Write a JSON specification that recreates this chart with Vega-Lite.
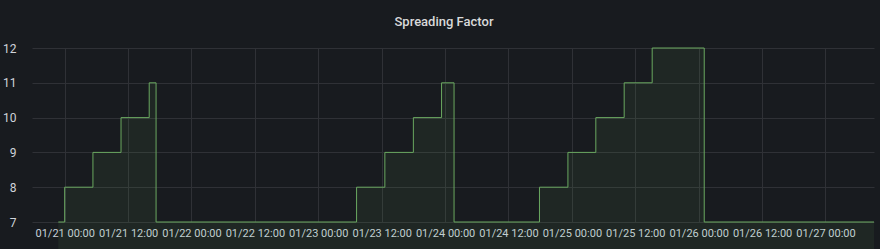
{
  "$schema": "https://vega.github.io/schema/vega-lite/v6.json",
  "width": 842,
  "height": 174,
  "autosize": {"type": "none"},
  "padding": {"left": 32, "top": 48, "right": 6, "bottom": 27},
  "background": "#181b1f",
  "title": {
    "text": "Spreading Factor",
    "anchor": "middle",
    "frame": "group",
    "dx": -9,
    "baseline": "alphabetic",
    "offset": 3,
    "font": "Roboto",
    "fontSize": 13,
    "fontWeight": 500,
    "color": "#d8d9da"
  },
  "config": {
    "view": {"stroke": null},
    "axis": {
      "labelFont": "Roboto",
      "labelFontSize": 11,
      "labelColor": "#c7d0d9",
      "gridColor": "#2f3136",
      "gridWidth": 1,
      "domain": false,
      "ticks": false,
      "title": null
    }
  },
  "data": {
    "values": [
      {"time": "2021-01-20T22:48:00Z", "sf": 7},
      {"time": "2021-01-21T00:00:00Z", "sf": 8},
      {"time": "2021-01-21T05:21:00Z", "sf": 9},
      {"time": "2021-01-21T10:40:00Z", "sf": 10},
      {"time": "2021-01-21T16:00:00Z", "sf": 11},
      {"time": "2021-01-21T17:18:00Z", "sf": 7},
      {"time": "2021-01-23T07:15:00Z", "sf": 8},
      {"time": "2021-01-23T12:36:00Z", "sf": 9},
      {"time": "2021-01-23T18:00:00Z", "sf": 10},
      {"time": "2021-01-23T23:20:00Z", "sf": 11},
      {"time": "2021-01-24T01:42:00Z", "sf": 7},
      {"time": "2021-01-24T17:52:00Z", "sf": 8},
      {"time": "2021-01-24T23:15:00Z", "sf": 9},
      {"time": "2021-01-25T04:32:00Z", "sf": 10},
      {"time": "2021-01-25T09:54:00Z", "sf": 11},
      {"time": "2021-01-25T15:12:00Z", "sf": 12},
      {"time": "2021-01-26T01:03:00Z", "sf": 7},
      {"time": "2021-01-27T09:11:00Z", "sf": 7}
    ]
  },
  "mark": {
    "type": "area",
    "interpolate": "step-after",
    "color": "#73bf69",
    "fillOpacity": 0.08,
    "line": {"color": "#6aa860", "strokeWidth": 1}
  },
  "encoding": {
    "x": {
      "field": "time",
      "type": "temporal",
      "scale": {
        "type": "utc",
        "domain": [
          {"year": 2021, "month": 1, "date": 20, "hours": 17, "minutes": 49, "utc": true},
          {"year": 2021, "month": 1, "date": 27, "hours": 9, "minutes": 11, "utc": true}
        ]
      },
      "axis": {
        "values": [
          {"year": 2021, "month": 1, "date": 21, "hours": 0, "utc": true},
          {"year": 2021, "month": 1, "date": 21, "hours": 12, "utc": true},
          {"year": 2021, "month": 1, "date": 22, "hours": 0, "utc": true},
          {"year": 2021, "month": 1, "date": 22, "hours": 12, "utc": true},
          {"year": 2021, "month": 1, "date": 23, "hours": 0, "utc": true},
          {"year": 2021, "month": 1, "date": 23, "hours": 12, "utc": true},
          {"year": 2021, "month": 1, "date": 24, "hours": 0, "utc": true},
          {"year": 2021, "month": 1, "date": 24, "hours": 12, "utc": true},
          {"year": 2021, "month": 1, "date": 25, "hours": 0, "utc": true},
          {"year": 2021, "month": 1, "date": 25, "hours": 12, "utc": true},
          {"year": 2021, "month": 1, "date": 26, "hours": 0, "utc": true},
          {"year": 2021, "month": 1, "date": 26, "hours": 12, "utc": true},
          {"year": 2021, "month": 1, "date": 27, "hours": 0, "utc": true}
        ],
        "labelExpr": "utcFormat(datum.value, '%m/%d %H:%M')",
        "labelPadding": 5,
        "labelBaseline": "top",
        "labelFlush": false,
        "labelOverlap": false
      }
    },
    "y": {
      "field": "sf",
      "type": "quantitative",
      "scale": {"domain": [7, 12], "zero": false, "nice": false},
      "axis": {
        "values": [7, 8, 9, 10, 11, 12],
        "labelPadding": 16,
        "labelFontSize": 12,
        "labelColor": "#d0d4da"
      }
    }
  }
}
